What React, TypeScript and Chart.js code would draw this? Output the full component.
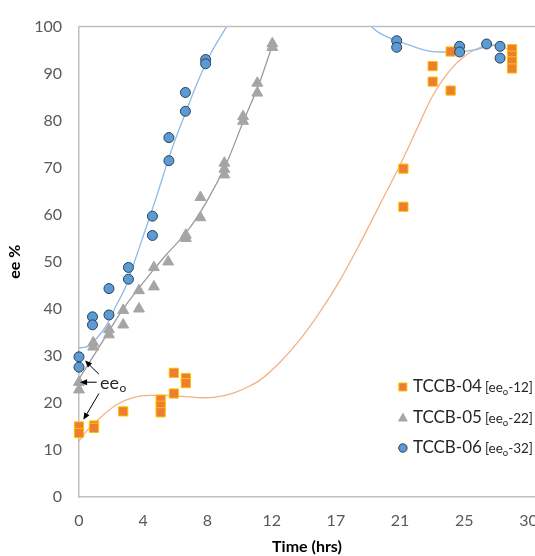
import React, { useEffect, useRef } from 'react';
import { Chart, registerables } from 'chart.js';

Chart.register(...registerables);

const FONT = 'Lato, "Open Sans", "DejaVu Sans", sans-serif';

// Axis ticks
const X_TICK_LABELS = ['0', '4', '8', '12', '17', '21', '25', '30'];
const X_TICK_STEP = 30 / 7;
const Y_MIN = 0;
const Y_MAX = 100;
const Y_STEP = 10;

// Series: TCCB-04 (orange squares)
const T04_X = [0, 0, 1, 1, 2.95, 5.45, 5.45, 5.45, 6.33, 6.33, 7.13, 7.13, 21.65, 21.65, 23.6, 23.6, 24.8, 24.8, 28.9, 28.9, 28.9, 28.9];
const T04_Y = [15.0, 13.6, 15.2, 14.7, 18.2, 20.7, 19.4, 18.0, 26.4, 22.0, 25.3, 24.2, 69.8, 61.7, 91.6, 88.3, 94.7, 86.4, 95.2, 93.8, 92.6, 91.1];

// Series: TCCB-05 (gray triangles)
const T05_X = [0, 0, 0.95, 0.95, 2.0, 2.0, 2.95, 2.95, 4.0, 4.0, 5.0, 5.0, 5.95, 7.13, 7.13, 8.1, 8.1, 9.7, 9.7, 9.7, 10.95, 10.95, 11.9, 11.9, 12.9, 12.9];
const T05_Y = [24.4, 22.8, 32.8, 31.9, 35.6, 34.5, 39.7, 36.6, 43.9, 40.0, 48.8, 44.7, 50.0, 55.7, 55.0, 63.7, 59.4, 71.0, 69.7, 68.5, 80.9, 79.9, 88.0, 85.9, 96.4, 95.6];

// Series: TCCB-06 (blue circles)
const T06_X = [0, 0, 0.9, 0.9, 2.0, 2.0, 3.3, 3.3, 4.9, 4.9, 6.0, 6.0, 7.1, 7.1, 8.45, 8.45, 21.2, 21.2, 25.4, 25.4, 27.2, 28.1, 28.1];
const T06_Y = [29.8, 27.6, 38.3, 36.6, 44.3, 38.7, 48.8, 46.3, 59.7, 55.6, 76.4, 71.5, 86.0, 82.0, 93.0, 92.1, 97.0, 95.6, 95.8, 94.6, 96.3, 95.8, 93.3];

// Trend lines (null = curve outside the plot)
const FIT04_X = [0, 0.5, 1.4, 2.5, 3.6, 4.7, 5.85, 6.95, 8.05, 9.2, 10.3, 11.4, 12.1, 13.4, 14.7, 16.05, 17.4, 18.7, 20.05, 21.4, 22.5, 23.6, 24.7, 25.85, 26.95, 27.6, 28.5, 28.95];
const FIT04_Y = [11.9, 14.0, 16.8, 19.6, 21.1, 21.6, 21.6, 21.4, 21.1, 21.3, 22.1, 23.6, 24.9, 28.6, 33.3, 39.2, 46.0, 53.6, 62.0, 70.4, 77.9, 85.3, 90.5, 94.0, 95.8, 96.1, 95.4, 94.7];
const FIT05_X = [0, 1.4, 2.95, 4.9, 5.85, 7.2, 8.5, 9.85, 10.95, 12.05, 12.9];
const FIT05_Y = [25.1, 32.2, 40.0, 48.0, 51.6, 56.4, 62.7, 71.0, 79.7, 88.1, 96.0];
const FIT06_X = [0, 0.5, 1.2, 1.85, 2.5, 3.1, 3.7, 4.3, 5.2, 6.1, 7.0, 7.85, 8.75, 9.85, 14.7, 19.5, 20.07, 22.3, 23.4, 24.5, 25.6, 26.5, 27.2, 27.85, 28.4];
const FIT06_Y = [31.7, 31.9, 33.8, 36.6, 40.8, 44.6, 50.0, 55.6, 64.1, 73.1, 80.8, 87.7, 94.0, 100, null, 100, 98.6, 95.8, 94.8, 94.6, 94.7, 95.1, 95.8, 96.0, 95.4];

// Legend
const SERIES_NAMES = ['TCCB-04', 'TCCB-05', 'TCCB-06'];
const SERIES_EE0 = ['12', '22', '32'];

// Annotation arrows (tail x, tail y, tip x, tip y) in data units, and label anchor
const ARROWS = [
  [1.33, 26.1, 0.4, 29.0],
  [1.18, 24.4, 0.07, 24.4],
  [1.33, 22.0, 0.29, 16.4],
];
const EE_LABEL_POS = [1.4, 24.2];

const pts = (xs: number[], ys: (number | null)[]) => xs.map((x, i) => ({ x, y: ys[i] }));

const ORANGE = '#ED7D31';
const ORANGE_EDGE = '#FFC000';
const GRAY = '#A5A5A5';
const BLUE = '#5B9BD5';
const BLUE_EDGE = '#2E4057';

const overlayPlugin = {
  id: 'overlay',
  afterDraw(chart: any) {
    const { ctx, chartArea, scales } = chart;
    const xs = scales.x;
    const ys = scales.y;
    ctx.save();
    // top border of plot area
    ctx.strokeStyle = '#BFBFBF';
    ctx.lineWidth = 1.5;
    ctx.beginPath();
    ctx.moveTo(chartArea.left, chartArea.top);
    ctx.lineTo(chartArea.right, chartArea.top);
    ctx.stroke();

    // arrows
    ctx.strokeStyle = '#000';
    ctx.fillStyle = '#000';
    ctx.lineWidth = 1;
    for (const a of ARROWS) {
      const x1 = xs.getPixelForValue(a[0]);
      const y1 = ys.getPixelForValue(a[1]);
      const x2 = xs.getPixelForValue(a[2]);
      const y2 = ys.getPixelForValue(a[3]);
      const ang = Math.atan2(y2 - y1, x2 - x1);
      const hl = 7;
      const hw = 3;
      const bx = x2 - Math.cos(ang) * hl;
      const by = y2 - Math.sin(ang) * hl;
      ctx.beginPath();
      ctx.moveTo(x1, y1);
      ctx.lineTo(bx, by);
      ctx.stroke();
      ctx.beginPath();
      ctx.moveTo(x2, y2);
      ctx.lineTo(bx + Math.sin(ang) * hw, by - Math.cos(ang) * hw);
      ctx.lineTo(bx - Math.sin(ang) * hw, by + Math.cos(ang) * hw);
      ctx.closePath();
      ctx.fill();
    }
    // ee_o label
    const lx = xs.getPixelForValue(EE_LABEL_POS[0]);
    const ly = ys.getPixelForValue(EE_LABEL_POS[1]);
    ctx.fillStyle = '#262626';
    ctx.textBaseline = 'middle';
    ctx.textAlign = 'left';
    ctx.font = `18px ${FONT}`;
    ctx.fillText('ee', lx, ly);
    const w = ctx.measureText('ee').width;
    ctx.font = `12px ${FONT}`;
    ctx.fillText('o', lx + w + 0.5, ly + 5);

    // legend, right-aligned near the right edge of the plot
    const mainSize = 17;
    const smallSize = 13.5;
    const subSize = 9.5;
    const rightEdge = chartArea.right - 2;
    const y0 = chartArea.bottom - 110;
    const dy = 30.5;
    ctx.font = `${mainSize}px ${FONT}`;
    const mainW = Math.max(...SERIES_NAMES.map((n) => ctx.measureText(n).width));
    ctx.font = `${smallSize}px ${FONT}`;
    const brW = Math.max(...SERIES_EE0.map((e) => ctx.measureText('[ee-' + e + ']').width));
    ctx.font = `${subSize}px ${FONT}`;
    const subW = ctx.measureText('o').width;
    const textX = rightEdge - (mainW + 3 + brW + subW);
    const mx = textX - 10;
    for (let i = 0; i < SERIES_NAMES.length; i++) {
      const cy = y0 + i * dy;
      ctx.lineWidth = 1;
      if (i === 0) {
        ctx.fillStyle = ORANGE;
        ctx.strokeStyle = ORANGE_EDGE;
        ctx.beginPath();
        ctx.rect(mx - 4, cy - 4, 8, 8);
        ctx.fill();
        ctx.stroke();
      } else if (i === 1) {
        ctx.fillStyle = GRAY;
        ctx.beginPath();
        ctx.moveTo(mx, cy - 5);
        ctx.lineTo(mx + 5, cy + 4);
        ctx.lineTo(mx - 5, cy + 4);
        ctx.closePath();
        ctx.fill();
      } else {
        ctx.fillStyle = BLUE;
        ctx.strokeStyle = BLUE_EDGE;
        ctx.beginPath();
        ctx.arc(mx, cy, 4.2, 0, Math.PI * 2);
        ctx.fill();
        ctx.stroke();
      }
      let tx = textX;
      ctx.fillStyle = '#262626';
      ctx.textBaseline = 'middle';
      ctx.font = `${mainSize}px ${FONT}`;
      ctx.fillText(SERIES_NAMES[i], tx, cy);
      tx += ctx.measureText(SERIES_NAMES[i]).width + 3;
      ctx.font = `${smallSize}px ${FONT}`;
      ctx.fillText('[ee', tx, cy + 1);
      tx += ctx.measureText('[ee').width;
      ctx.font = `${subSize}px ${FONT}`;
      ctx.fillText('o', tx, cy + 5);
      tx += ctx.measureText('o').width;
      ctx.font = `${smallSize}px ${FONT}`;
      ctx.fillText('-' + SERIES_EE0[i] + ']', tx, cy + 1);
    }
    ctx.restore();
  },
};

export default function App() {
  const ref = useRef<HTMLCanvasElement | null>(null);
  useEffect(() => {
    if (!ref.current) return;
    const lineBase = {
      showLine: true,
      pointRadius: 0,
      pointHoverRadius: 0,
      borderWidth: 1.3,
      cubicInterpolationMode: 'monotone' as const,
      spanGaps: false,
      fill: false,
    };
    const chart = new Chart(ref.current, {
      type: 'scatter',
      data: {
        datasets: [
          {
            label: SERIES_NAMES[2],
            data: pts(T06_X, T06_Y),
            pointStyle: 'circle',
            pointRadius: 5,
            backgroundColor: BLUE,
            borderColor: BLUE_EDGE,
            borderWidth: 1,
            clip: false,
          },
          {
            label: SERIES_NAMES[1],
            data: pts(T05_X, T05_Y),
            pointStyle: 'triangle',
            pointRadius: 6.3,
            backgroundColor: GRAY,
            borderColor: GRAY,
            borderWidth: 1,
            clip: false,
          },
          {
            label: SERIES_NAMES[0],
            data: pts(T04_X, T04_Y),
            pointStyle: 'rect',
            pointRadius: 6.5,
            backgroundColor: ORANGE,
            borderColor: ORANGE_EDGE,
            borderWidth: 1,
            clip: false,
          },
          { label: 'fit06', data: pts(FIT06_X, FIT06_Y), borderColor: '#8DBBE6', ...lineBase },
          { label: 'fit05', data: pts(FIT05_X, FIT05_Y), borderColor: '#9A9A9A', ...lineBase },
          { label: 'fit04', data: pts(FIT04_X, FIT04_Y), borderColor: '#F4B183', ...lineBase },
        ] as any,
      },
      options: {
        animation: false,
        responsive: false,
        devicePixelRatio: 1,
        layout: { autoPadding: false, padding: { top: 17, left: 0, right: 0, bottom: 0 } },
        plugins: { legend: { display: false }, tooltip: { enabled: false } },
        scales: {
          x: {
            type: 'linear',
            min: 0,
            max: 30.43,
            afterBuildTicks: (s: any) => {
              s.ticks = X_TICK_LABELS.map((_, i) => ({ value: i * X_TICK_STEP }));
            },
            afterFit: (s: any) => {
              s.height = 59;
              s.paddingLeft = 0;
              s.paddingRight = 0;
            },
            ticks: {
              callback: (_v: any, i: number) => X_TICK_LABELS[i],
              font: { family: FONT, size: 16 },
              color: '#595959',
              padding: 14,
              maxRotation: 0,
              autoSkip: false,
            },
            grid: { display: false, drawTicks: false },
            border: { display: true, color: '#BFBFBF', width: 1.5 },
            title: {
              display: true,
              text: 'Time (hrs)',
              font: { family: FONT, size: 16, weight: 'bold' },
              color: '#000',
              padding: { top: 0, bottom: 0 },
            },
          },
          y: {
            type: 'linear',
            min: Y_MIN,
            max: Y_MAX,
            afterFit: (s: any) => {
              s.width = 79;
            },
            ticks: {
              stepSize: Y_STEP,
              font: { family: FONT, size: 16 },
              color: '#595959',
              padding: 17,
            },
            grid: { display: false, drawTicks: false },
            border: { display: true, color: '#BFBFBF', width: 1.5 },
            title: {
              display: true,
              text: 'ee %',
              font: { family: FONT, size: 16, weight: 'bold' },
              color: '#000',
              padding: { top: 5, bottom: 0 },
            },
          },
        },
      } as any,
      plugins: [overlayPlugin],
    });
    return () => chart.destroy();
  }, []);
  return (
    <div style={{ position: 'absolute', left: 0, top: 0, width: 535, height: 556 }}>
      <canvas ref={ref} width={535} height={556} style={{ width: 535, height: 556 }} />
    </div>
  );
}
